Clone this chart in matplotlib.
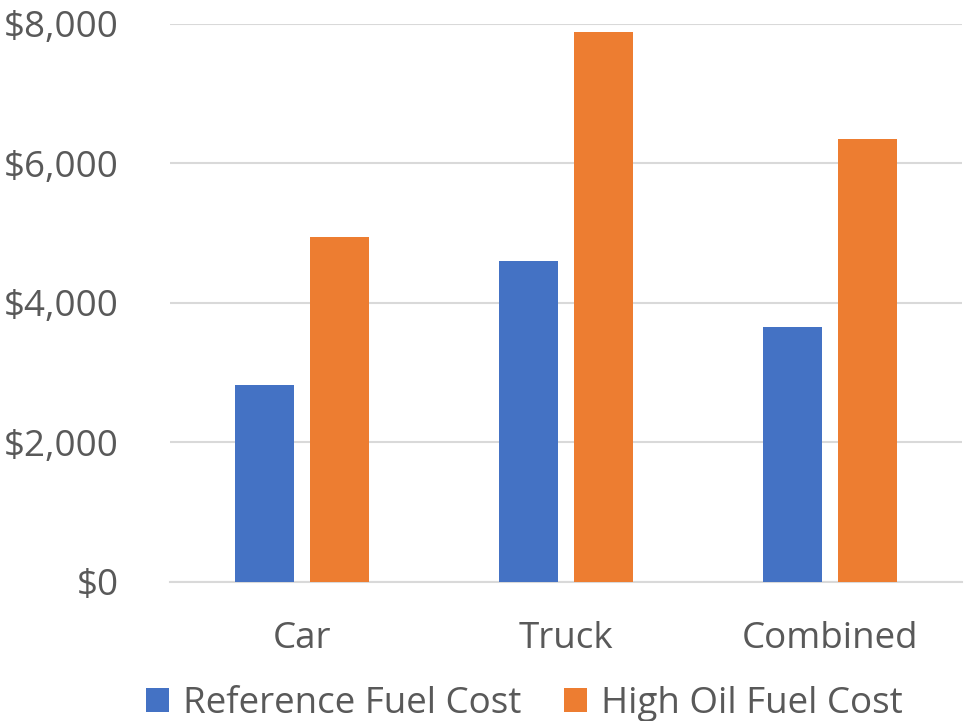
import matplotlib
matplotlib.use("Agg")
import matplotlib.pyplot as plt
import numpy as np
from matplotlib.ticker import FuncFormatter

categories = ["Car", "Truck", "Combined"]
reference_cost = [2820, 4600, 3650]
high_oil_cost = [4945, 7885, 6340]
series_names = ["Reference Fuel Cost", "High Oil Fuel Cost"]
y_ticks = [0, 2000, 4000, 6000, 8000]

BLUE = "#4472c4"
ORANGE = "#ed7d31"
GRID = "#d9d9d9"
TEXT = "#595959"

plt.rcParams['font.family'] = ['Open Sans', 'DejaVu Sans']

fig = plt.figure(figsize=(9.65, 7.21), dpi=100)
ax = fig.add_axes([170 / 965, (721 - 582) / 721, 792 / 965, 558.5 / 721])

x = np.arange(len(categories))
w = 0.227
off = 0.142
ax.bar(x - off, reference_cost, w, color=BLUE, label=series_names[0], zorder=3)
ax.bar(x + off, high_oil_cost, w, color=ORANGE, label=series_names[1], zorder=3)

ax.set_xlim(-0.5, 2.5)
ax.set_ylim(0, 8000)
ax.set_yticks(y_ticks)
ax.yaxis.set_major_formatter(FuncFormatter(lambda v, p: "${:,.0f}".format(v)))
ax.set_xticks(x)
ax.set_xticklabels(categories)
ax.grid(axis='y', color=GRID, linewidth=1.5, zorder=0)
for s in ['top', 'left', 'right']:
    ax.spines[s].set_visible(False)
ax.spines['bottom'].set_color(GRID)
ax.spines['bottom'].set_linewidth(1.5)
ax.tick_params(axis='both', length=0, labelsize=26.5, colors=TEXT)
ax.tick_params(axis='y', pad=37)
ax.tick_params(axis='x', pad=28)

fig.legend(loc='lower center', bbox_to_anchor=(0.5435, -0.047), ncol=2, frameon=False,
           fontsize=26.5, labelcolor=TEXT, handlelength=0.62, handleheight=0.62,
           handletextpad=0.38, columnspacing=1.15)

fig.savefig("out.png", dpi=100)
